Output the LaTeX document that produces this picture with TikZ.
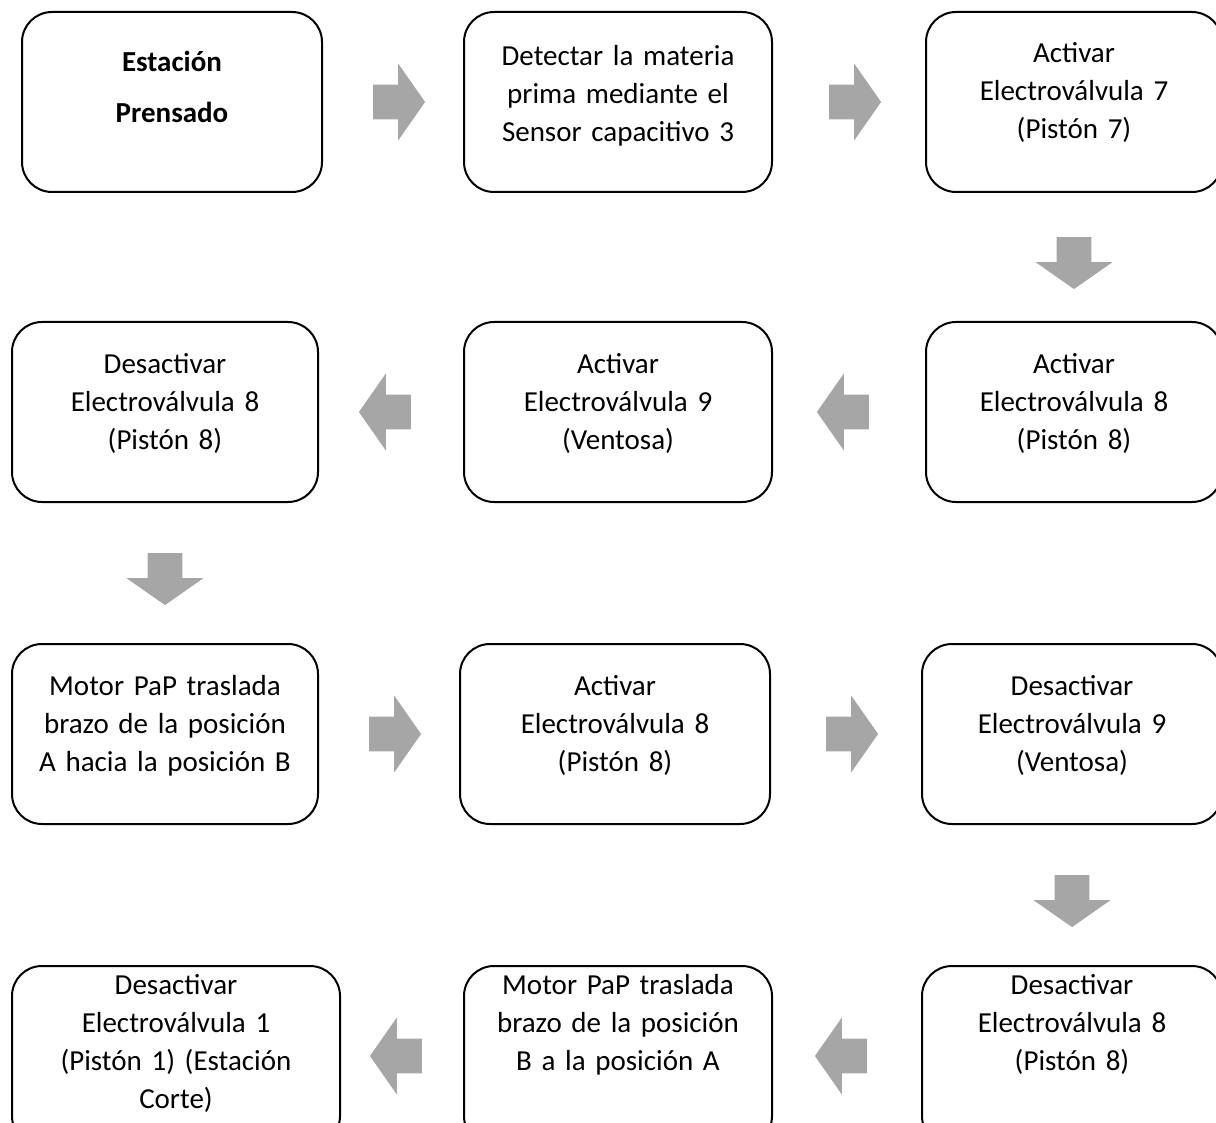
\documentclass[tikz,border=0pt]{standalone}
\usepackage{fontspec}
\setmainfont{Carlito}
\usetikzlibrary{positioning,calc,shapes.arrows}
\definecolor{grisflecha}{RGB}{166,166,166}
\tikzset{
    %Define style for boxes
    caja/.style={
           rectangle,
           rounded corners=15pt,
           draw=black, line width=1pt,
           text width=#1,
           align=center,
           inner sep=0pt,
           text height=25.5pt,
           text depth=64.5pt,
           font=\fontsize{14.5}{19}\selectfont},
    caja/.default=154pt,
    % Define block arrow style
    flecha/.style={
           single arrow,
           fill=grisflecha,
           draw=none,
           inner xsep=0pt,
           inner ysep=8.5pt,
           minimum height=26pt,
           single arrow head extend=10.5pt,
           single arrow tip angle=110}
}
\begin{document}
\begin{tikzpicture}[x=0.5pt, y=-0.5pt]
    \useasboundingbox (0,0) rectangle (1216,1123);
    \clip (0,0) rectangle (1216,1123);
    % fila 1
    \node[caja=150pt, text height=30pt, text depth=60pt,
        font=\fontsize{14.5}{25.5}\selectfont\bfseries] (b1) at (172,102) {Estación\\Prensado};
    \node[caja=154pt, text height=27pt, text depth=63pt, right=70pt of b1]
        (b2) {Detectar la materia\\prima mediante el\\Sensor capacitivo 3};
    \node[caja=148pt, right=76pt of b2] (b3) {Activar\\Electroválvula 7\\(Pistón 7)};
    % fila 2
    \node[caja=148pt, below=64pt of b3] (b4) {Activar\\Electroválvula 8\\(Pistón 8)};
    \node[caja=154pt, left=76pt of b4] (b5) {Activar\\Electroválvula 9\\(Ventosa)};
    \node[caja=153pt, left=72pt of b5] (b6) {Desactivar\\Electroválvula 8\\(Pistón 8)};
    % fila 3
    \node[caja=153pt, below=70pt of b6] (b7) {Motor PaP traslada\\brazo de la posición\\A hacia la posición B};
    \node[caja=155pt, right=70pt of b7] (b8) {Activar\\Electroválvula 8\\(Pistón 8)};
    \node[caja=150pt, right=75pt of b8] (b9) {Desactivar\\Electroválvula 9\\(Ventosa)};
    % fila 4
    \node[caja=150pt, text height=14pt, text depth=76pt, below=70pt of b9]
        (b10) {Desactivar\\Electroválvula 8\\(Pistón 8)};
    \node[caja=154pt, text height=14pt, text depth=76pt, left=74pt of b10]
        (b11) {Motor PaP traslada\\brazo de la posición\\B a la posición A};
    \node[caja=164pt, text height=14pt, text depth=76pt, left=61pt of b11]
        (b12) {Desactivar\\Electroválvula 1\\(Pistón 1) (Estación\\Corte)};
    % flechas
    \node[flecha] (f1) at ($(b1.east)!0.5!(b2.west)$) {};
    \node[flecha] (f2) at ($(b2.east)!0.5!(b3.west)$) {};
    \node[flecha, rotate=-90] (f3) at ($(b3.south)!0.5!(b4.north)$) {};
    \node[flecha, rotate=180] (f4) at ($(b4.west)!0.5!(b5.east)$) {};
    \node[flecha, rotate=180] (f5) at ($(b5.west)!0.5!(b6.east)$) {};
    \node[flecha, rotate=-90] (f6) at ($(b6.south)!0.5!(b7.north)$) {};
    \node[flecha] (f7) at ($(b7.east)!0.5!(b8.west)$) {};
    \node[flecha] (f8) at ($(b8.east)!0.5!(b9.west)$) {};
    \node[flecha, rotate=-90] (f9) at ($(b9.south)!0.5!(b10.north)$) {};
    \node[flecha, rotate=180] (f10) at ($(b10.west)!0.5!(b11.east)$) {};
    \node[flecha, rotate=180] (f11) at ($(b11.west)!0.5!(b12.east)$) {};
\end{tikzpicture}
\end{document}
